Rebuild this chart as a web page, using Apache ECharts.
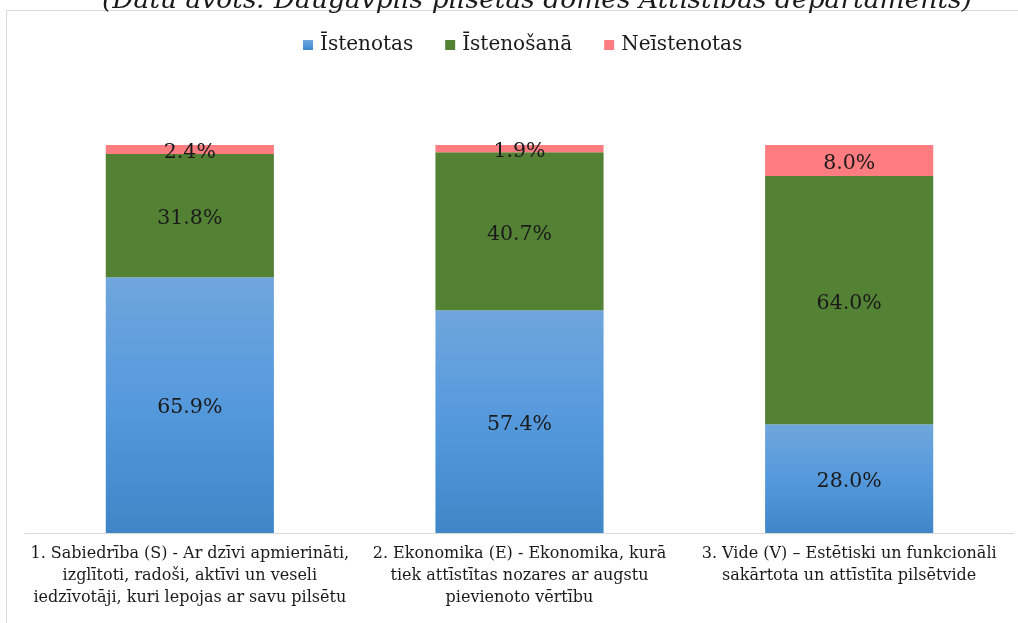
<!DOCTYPE html>
<html><head><meta charset="utf-8">
<script src="https://cdn.jsdelivr.net/npm/echarts@6/dist/echarts.min.js"></script>
<style>html,body{margin:0;padding:0;background:#fff}#c{width:1018px;height:623px}</style>
</head><body><div id="c"></div>
<script>
const categories = [
  "1. Sabiedrība (S) - Ar dzīvi apmierināti,\nizglītoti, radoši, aktīvi un veseli\niedzīvotāji, kuri lepojas ar savu pilsētu",
  "2. Ekonomika (E) - Ekonomika, kurā\ntiek attīstītas nozares ar augstu\npievienoto vērtību",
  "3. Vide (V) – Estētiski un funkcionāli\nsakārtota un attīstīta pilsētvide"
];
const seriesNames = ["Īstenotas", "Īstenošanā", "Neīstenotas"];
const istenotas = [65.9, 57.4, 28.0];
const istenosana = [31.8, 40.7, 64.0];
const neistenotas = [2.4, 1.9, 8.0];
const titleText = "(Datu avots: Daugavpils pilsētas domes Attīstības departaments)";

const serif = "DejaVu Serif";
const chart = echarts.init(document.getElementById('c'));
const lbl = {show: true, position: 'inside', offset: [0, 3], color: '#1a1a1a', fontFamily: serif, fontSize: 20.5,
  formatter: p => p.value.toFixed(1) + '%'};
chart.setOption({
  animation: false,
  title: {text: titleText, left: 97, top: -17,
    textStyle: {fontFamily: serif, fontStyle: 'italic', fontWeight: 'normal', fontSize: 26.5, color: '#1a1a1a'}},
  graphic: [{type: 'rect', shape: {x: 6.5, y: 10.5, width: 1100, height: 700},
    style: {fill: 'none', stroke: '#d9d9d9', lineWidth: 1}, z: -1}],
  legend: {top: 30, left: 298, icon: 'rect', itemWidth: 10, itemHeight: 10, itemGap: 32,
    textStyle: {fontFamily: serif, fontSize: 20, color: '#1a1a1a', padding: [0, 0, 0, 2]}},
  grid: {left: 25, right: 4, top: 145, bottom: 90},
  xAxis: {type: 'category', data: categories,
    axisLine: {lineStyle: {color: '#d9d9d9'}}, axisTick: {show: false},
    axisLabel: {fontFamily: serif, fontSize: 16, color: '#1a1a1a', lineHeight: 22, margin: 10, interval: 0}},
  yAxis: {type: 'value', min: 0, max: 100, show: false},
  series: [
    {name: seriesNames[0], type: 'bar', stack: 's', barWidth: '51%', data: istenotas, label: lbl,
      itemStyle: {color: new echarts.graphic.LinearGradient(0, 0, 0, 1, [{offset: 0, color: '#6fa6dc'}, {offset: 0.5, color: '#5599dd'}, {offset: 1, color: '#3f86c7'}])}},
    {name: seriesNames[1], type: 'bar', stack: 's', data: istenosana, label: lbl, itemStyle: {color: '#548235'}},
    {name: seriesNames[2], type: 'bar', stack: 's', data: neistenotas, label: lbl, itemStyle: {color: '#ff7c80'}}
  ]
});
</script></body></html>
